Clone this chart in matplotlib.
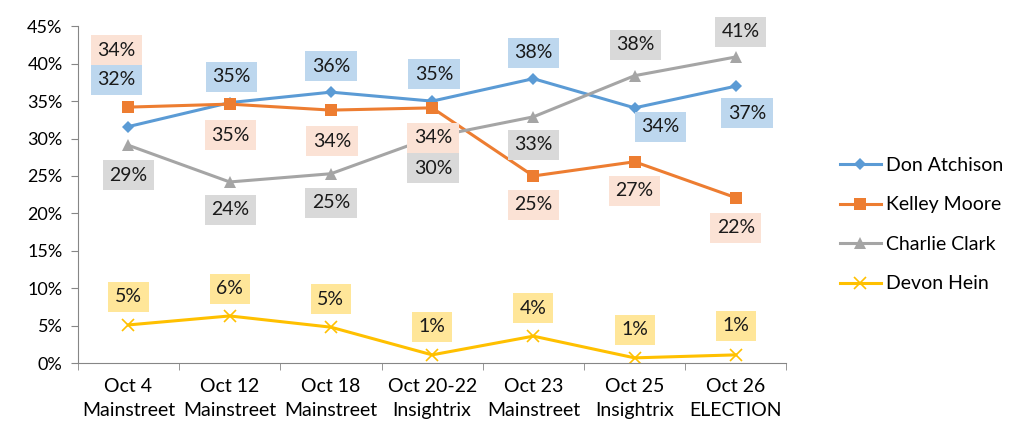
import matplotlib.pyplot as plt

plt.rcParams['font.family'] = ['Lato', 'DejaVu Sans']

categories = ['Oct 4\nMainstreet', 'Oct 12\nMainstreet', 'Oct 18\nMainstreet', 'Oct 20-22\nInsightrix',
              'Oct 23\nMainstreet', 'Oct 25\nInsightrix', 'Oct 26\nELECTION']
don = [31.6, 34.8, 36.2, 35.0, 38.0, 34.1, 37.0]
kelley = [34.2, 34.6, 33.8, 34.1, 25.0, 26.9, 22.1]
charlie = [29.1, 24.2, 25.3, 30.2, 32.9, 38.4, 40.9]
devon = [5.1, 6.3, 4.8, 1.1, 3.6, 0.7, 1.1]
names = ['Don Atchison', 'Kelley Moore', 'Charlie Clark', 'Devon Hein']

colors = ['#5B9BD5', '#ED7D31', '#A5A5A5', '#FFC000']
boxcols = ['#BDD7EE', '#FBE2D5', '#D9D9D9', '#FFE699']
markers = ['D', 's', '^', 'x']
msizes = [6.5, 8, 8, 9]

# label offsets in pixels (dx, dy up)
offs = [
    [(-12, 47), (2, 26), (0, 26), (2, 27), (0, 26), (26, -19), (11, -27)],
    [(-12, 57), (1, -31), (1, -31), (1, -30), (0, -29), (0, -29), (0, -30)],
    [(0, -30), (1, -28), (0, -29), (1, -31), (0, -28), (1, 31), (5, 25)],
    [(0, 28), (0, 27), (0, 28), (0, 28), (0, 28), (0, 28), (0, 29)],
]

fig = plt.figure(figsize=(10.24, 4.38), dpi=100)
ax = fig.add_axes([0.076, 0.171, 0.692, 0.769])
x = list(range(len(categories)))
series = [don, kelley, charlie, devon]
for i, s in enumerate(series):
    ax.plot(x, s, color=colors[i], lw=2.2, marker=markers[i], ms=msizes[i],
            mew=1.2 if markers[i] == 'x' else 0, label=names[i])
for i, s in enumerate(series):
    for j, v in enumerate(s):
        dx, dy = offs[i][j]
        ax.annotate('%.0f%%' % v, (j, v), xytext=(dx * 0.72, dy * 0.72), textcoords='offset points',
                    ha='center', va='center', fontsize=14, color='#1a1a1a',
                    bbox=dict(boxstyle='square,pad=0.34', fc=boxcols[i], ec='none'))

ax.set_xlim(-0.5, 6.5)
ax.set_ylim(0, 45)
ax.set_yticks(range(0, 46, 5))
ax.set_yticklabels(['%d%%' % t for t in range(0, 46, 5)], fontsize=13)
ax.set_xticks(x)
ax.set_xticklabels(categories, fontsize=14, linespacing=1.45)
ax.set_xticks([k - 0.5 for k in range(8)], minor=True)
ax.tick_params(axis='x', which='major', length=0, pad=11)
ax.tick_params(axis='x', which='minor', length=5, color='#868686')
ax.tick_params(axis='y', length=5, color='#868686', pad=6)
for sp in ['top', 'right']:
    ax.spines[sp].set_visible(False)
for sp in ['left', 'bottom']:
    ax.spines[sp].set_color('#868686')

fig.legend(loc='upper left', bbox_to_anchor=(0.803, 0.682), frameon=False, fontsize=14,
           handlelength=2.1, labelspacing=1.16, handletextpad=0.3)

fig.savefig('out.png', dpi=100)
